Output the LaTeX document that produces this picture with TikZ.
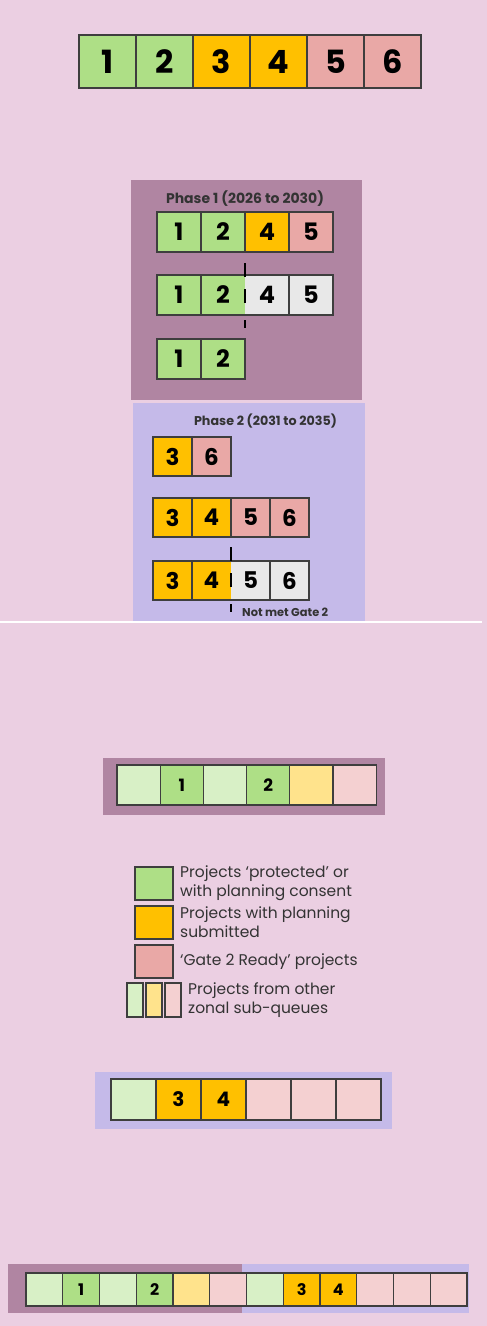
\documentclass[tikz,border=0pt]{standalone}
\usepackage{fontspec}
\setmainfont{Poppins}
\usetikzlibrary{positioning}
\definecolor{bgpink}{HTML}{EBCFE2}
\definecolor{phaseone}{HTML}{B085A2}
\definecolor{phasetwo}{HTML}{C5BAE9}
\definecolor{cgreen}{HTML}{AEDF86}
\definecolor{camber}{HTML}{FFC000}
\definecolor{crose}{HTML}{E9A8A6}
\definecolor{cgrey}{HTML}{E8E8E8}
\definecolor{lgreen}{HTML}{D8F0C6}
\definecolor{lamber}{HTML}{FFE38C}
\definecolor{lrose}{HTML}{F4D0D1}
\definecolor{edge}{HTML}{3E3E3E}
\definecolor{inktext}{HTML}{333333}

\begin{document}
\begin{tikzpicture}[x=1pt, y=-1pt,
  cell/.style={draw=edge, line width=1.1pt, inner sep=0pt, outer sep=0pt, text=black},
  big/.style={cell, minimum width=57pt, minimum height=53pt, font=\bfseries\fontsize{32}{32}\selectfont},
  mid/.style={cell, minimum width=44pt, minimum height=40pt, font=\bfseries\fontsize{24}{24}\selectfont},
  mid2/.style={cell, minimum width=39pt, minimum height=39pt, font=\bfseries\fontsize{23}{23}\selectfont},
  rowa/.style={cell, minimum width=43.2pt, minimum height=40pt, font=\bfseries\fontsize{17}{17}\selectfont},
  rowb/.style={cell, minimum width=45pt, minimum height=41pt, font=\bfseries\fontsize{20}{20}\selectfont},
  rowc/.style={cell, minimum width=36.75pt, minimum height=33pt, font=\bfseries\fontsize{16}{16}\selectfont},
  grn/.style={fill=cgreen}, amb/.style={fill=camber}, ros/.style={fill=crose},
  gry/.style={fill=cgrey}, lgrn/.style={fill=lgreen}, lamb/.style={fill=lamber}, lros/.style={fill=lrose},
  title/.style={font=\bfseries\fontsize{14}{14}\selectfont, text=inktext},
  cutline/.style={line width=2.2pt, black, dash pattern=on 14pt off 12pt on 14pt off 17pt},
  key/.style={draw=edge, line width=1.5pt, inner sep=0pt, outer sep=0pt},
  keytext/.style={align=left, inner sep=0pt, text=inktext, font=\fontsize{15.5}{19}\selectfont}
]
  % canvas
  \fill[bgpink] (0,0) rectangle (487,1326);
  \useasboundingbox (0,0) rectangle (487,1326);

  % full queue
  \node[big, grn, anchor=north west] (t1) at (79,35) {1};
  \node[big, grn, right=0pt of t1] (t2) {2};
  \node[big, amb, right=0pt of t2] (t3) {3};
  \node[big, amb, right=0pt of t3] (t4) {4};
  \node[big, ros, right=0pt of t4] (t5) {5};
  \node[big, ros, right=0pt of t5] (t6) {6};

  % phase 1
  \fill[phaseone] (131,180) rectangle (362,400);
  \node[title] (p1) at (245,199) {Phase 1 (2026 to 2030)};
  \node[mid, grn, anchor=north west] (a1) at (157,212) {1};
  \node[mid, grn, right=0pt of a1] (a2) {2};
  \node[mid, amb, right=0pt of a2] (a4) {4};
  \node[mid, ros, right=0pt of a4] (a5) {5};
  \node[mid, grn, anchor=north west] (b1) at (157,275) {1};
  \node[mid, grn, right=0pt of b1] (b2) {2};
  \node[mid, gry, right=0pt of b2] (b4) {4};
  \node[mid, gry, right=0pt of b4] (b5) {5};
  \node[mid, grn, anchor=north west] (c1) at (157,339) {1};
  \node[mid, grn, right=0pt of c1] (c2) {2};
  % no cell edge where the cut falls
  \fill[cgreen] ([xshift=-0.7pt,yshift=-0.6pt]b2.north east) rectangle ([yshift=0.6pt]b2.south east);
  \fill[cgrey] ([yshift=-0.6pt]b2.north east) rectangle ([xshift=0.7pt,yshift=0.6pt]b2.south east);
  \draw[cutline] ([yshift=12pt]b2.north east) -- ([yshift=-13pt]b2.south east);

  % phase 2
  \fill[phasetwo] (133,403) rectangle (365,621);
  \node[title, font=\bfseries\fontsize{12.7}{12.7}\selectfont] (p2) at (265.5,421) {Phase 2 (2031 to 2035)};
  \node[mid2, amb, anchor=north west] (d3) at (153,437) {3};
  \node[mid2, ros, right=0pt of d3] (d6) {6};
  \node[mid2, amb, anchor=north west] (e3) at (153,498) {3};
  \node[mid2, amb, right=0pt of e3] (e4) {4};
  \node[mid2, ros, right=0pt of e4] (e5) {5};
  \node[mid2, ros, right=0pt of e5] (e6) {6};
  \node[mid2, amb, anchor=north west] (f3) at (153,561) {3};
  \node[mid2, amb, right=0pt of f3] (f4) {4};
  \node[mid2, gry, right=0pt of f4] (f5) {5};
  \node[mid2, gry, right=0pt of f5] (f6) {6};
  \fill[camber] ([xshift=-0.7pt,yshift=-0.6pt]f4.north east) rectangle ([yshift=0.6pt]f4.south east);
  \fill[cgrey] ([yshift=-0.6pt]f4.north east) rectangle ([xshift=0.7pt,yshift=0.6pt]f4.south east);
  \draw[cutline] ([yshift=14pt]f4.north east) -- ([yshift=-12pt]f4.south east);
  \node[title, font=\bfseries\fontsize{11.4}{11.4}\selectfont, anchor=west, inner sep=0pt] (notmet) at (242,612) {Not met Gate 2};

  \draw[white, line width=2pt] (0,622) -- (482,622);

  % zone sub-queue, phase 1
  \fill[phaseone] (103,758) rectangle (385,815);
  \node[rowa, lgrn, anchor=north west] (g1) at (117,765) {};
  \node[rowa, grn, right=0pt of g1] (g2) {1};
  \node[rowa, lgrn, right=0pt of g2] (g3) {};
  \node[rowa, grn, right=0pt of g3] (g4) {2};
  \node[rowa, lamb, right=0pt of g4] (g5) {};
  \node[rowa, lros, right=0pt of g5] (g6) {};

  % key
  \node[key, grn, minimum width=38pt, minimum height=33pt, anchor=north west] (k1) at (135,867) {};
  \node[key, amb, minimum width=38pt, minimum height=33pt, below=6pt of k1] (k2) {};
  \node[key, ros, minimum width=38pt, minimum height=33pt, below=6pt of k2] (k3) {};
  \node[key, lgrn, minimum width=16pt, minimum height=34pt, anchor=north west] (k4) at (127,983) {};
  \node[key, lamb, minimum width=16pt, minimum height=34pt, right=3pt of k4] (k5) {};
  \node[key, lros, minimum width=16pt, minimum height=34pt, right=3pt of k5] (k6) {};
  \node[keytext, right=7pt of k1] (k1t) {Projects ‘protected’ or\\with planning consent};
  \node[keytext, right=7pt of k2] (k2t) {Projects with planning\\submitted};
  \node[keytext, right=7pt of k3] (k3t) {‘Gate 2 Ready’ projects};
  \node[keytext, right=7pt of k6] (k4t) {Projects from other\\zonal sub-queues};

  % zone sub-queue, phase 2
  \fill[phasetwo] (95,1072) rectangle (392,1129);
  \node[rowb, lgrn, anchor=north west] (h1) at (111,1079) {};
  \node[rowb, amb, right=0pt of h1] (h2) {3};
  \node[rowb, amb, right=0pt of h2] (h3) {4};
  \node[rowb, lros, right=0pt of h3] (h4) {};
  \node[rowb, lros, right=0pt of h4] (h5) {};
  \node[rowb, lros, right=0pt of h5] (h6) {};

  % combined queue
  \fill[phaseone] (8,1264) rectangle (242,1313);
  \fill[phasetwo] (242,1264) rectangle (469,1313);
  \node[rowc, lgrn, anchor=north west] (q1) at (26,1273) {};
  \node[rowc, grn, right=0pt of q1] (q2) {1};
  \node[rowc, lgrn, right=0pt of q2] (q3) {};
  \node[rowc, grn, right=0pt of q3] (q4) {2};
  \node[rowc, lamb, right=0pt of q4] (q5) {};
  \node[rowc, lros, right=0pt of q5] (q6) {};
  \node[rowc, lgrn, right=0pt of q6] (q7) {};
  \node[rowc, amb, right=0pt of q7] (q8) {3};
  \node[rowc, amb, right=0pt of q8] (q9) {4};
  \node[rowc, lros, right=0pt of q9] (q10) {};
  \node[rowc, lros, right=0pt of q10] (q11) {};
  \node[rowc, lros, right=0pt of q11] (q12) {};
\end{tikzpicture}
\end{document}
